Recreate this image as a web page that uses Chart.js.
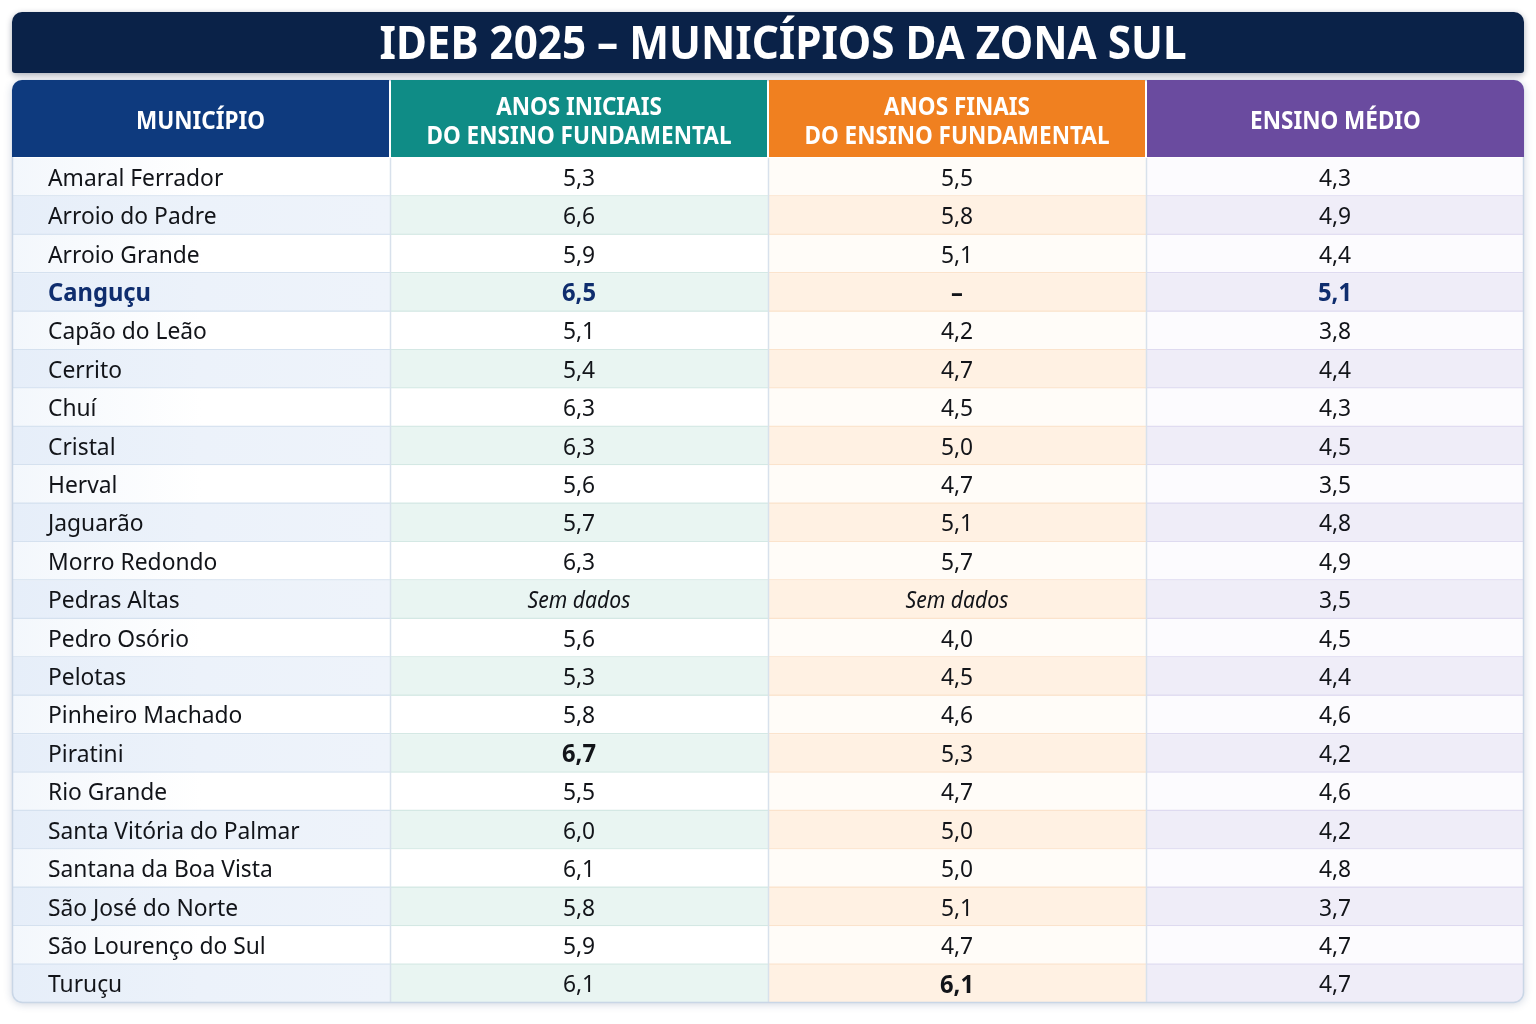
<!DOCTYPE html>
<html lang="pt-BR">
<head>
<meta charset="utf-8">
<title>IDEB 2025 – Municípios da Zona Sul</title>
<script src="https://cdn.jsdelivr.net/npm/chart.js@4.4.1/dist/chart.umd.min.js"></script>
<style>
  html, body { margin: 0; padding: 0; background: #ffffff; }
  canvas { display: block; }
</style>
</head>
<body>
<canvas id="idebTable" width="1536" height="1024"></canvas>
<script>
// --- 1. Data ---
const TITLE = 'IDEB 2025 – MUNICÍPIOS DA ZONA SUL';
const NO_DATA = 'Sem dados';
const DASH = '–';

const columnHeaders = [
    ['MUNICÍPIO'],
    ['ANOS INICIAIS', 'DO ENSINO FUNDAMENTAL'],
    ['ANOS FINAIS', 'DO ENSINO FUNDAMENTAL'],
    ['ENSINO MÉDIO']
];

const municipios = [
    'Amaral Ferrador', 'Arroio do Padre', 'Arroio Grande', 'Canguçu', 'Capão do Leão',
    'Cerrito', 'Chuí', 'Cristal', 'Herval', 'Jaguarão', 'Morro Redondo', 'Pedras Altas',
    'Pedro Osório', 'Pelotas', 'Pinheiro Machado', 'Piratini', 'Rio Grande',
    'Santa Vitória do Palmar', 'Santana da Boa Vista', 'São José do Norte',
    'São Lourenço do Sul', 'Turuçu'
];

const anosIniciais = [5.3, 6.6, 5.9, 6.5, 5.1, 5.4, 6.3, 6.3, 5.6, 5.7, 6.3, NO_DATA, 5.6, 5.3, 5.8, 6.7, 5.5, 6.0, 6.1, 5.8, 5.9, 6.1];
const anosFinais   = [5.5, 5.8, 5.1, DASH, 4.2, 4.7, 4.5, 5.0, 4.7, 5.1, 5.7, NO_DATA, 4.0, 4.5, 4.6, 5.3, 4.7, 5.0, 5.0, 5.1, 4.7, 6.1];
const ensinoMedio  = [4.3, 4.9, 4.4, 5.1, 3.8, 4.4, 4.3, 4.5, 3.5, 4.8, 4.9, 3.5, 4.5, 4.4, 4.6, 4.2, 4.6, 4.2, 4.8, 3.7, 4.7, 4.7];

const highlightMunicipio = 'Canguçu';

// --- 2. Styles ---
const FONT = '"Noto Sans", "Open Sans", sans-serif';
const TITLE_BG = '#0a2248';
const HEADER_COLORS = ['#0e3a7e', '#0f8c86', '#f08020', '#6a4b9f'];
const STRIPE_COLORS = ['#ecf2fa', '#e9f5f2', '#fff1e3', '#efedf8'];
const PLAIN_COLORS  = ['#ffffff', '#ffffff', '#fffcf8', '#fcfbfe'];
const ROW_LINE_COLORS = ['#d5e1ef', '#d4e8e4', '#fbe3cc', '#dedaf0'];
const COL_LINE_COLOR = '#d8e1ec';
const OUTER_LINE_COLOR = '#c9d6e6';
const TEXT_COLOR = '#121419';
const HIGHLIGHT_COLOR = '#0f2d6e';

const valueColumns = [anosIniciais, anosFinais, ensinoMedio];

// Best value of each column is printed in bold
const columnMax = valueColumns.map(col => Math.max(...col.filter(v => typeof v === 'number')));

function formatValue(v) {
    return typeof v === 'number' ? v.toFixed(1).replace('.', ',') : v;
}

function roundRect(ctx, x, y, w, h, r) {
    const [tl, tr, br, bl] = r;
    ctx.beginPath();
    ctx.moveTo(x + tl, y);
    ctx.lineTo(x + w - tr, y);
    ctx.arcTo(x + w, y, x + w, y + tr, tr);
    ctx.lineTo(x + w, y + h - br);
    ctx.arcTo(x + w, y + h, x + w - br, y + h, br);
    ctx.lineTo(x + bl, y + h);
    ctx.arcTo(x, y + h, x, y + h - bl, bl);
    ctx.lineTo(x, y + tl);
    ctx.arcTo(x, y, x + tl, y, tl);
    ctx.closePath();
}

// Text centred on its cap height; squeeze narrows the glyphs a little
function drawText(ctx, text, x, yMid, opts) {
    const { size, weight = 400, color = TEXT_COLOR, align = 'left', style = 'normal', squeeze = 1, maxWidth } = opts;
    ctx.save();
    ctx.font = `${style} ${weight} ${size}px ${FONT}`;
    ctx.fillStyle = color;
    ctx.textAlign = align;
    ctx.textBaseline = 'alphabetic';
    ctx.translate(x, yMid + size * 0.714 / 2);
    let sx = squeeze;
    if (maxWidth) sx = Math.min(sx, maxWidth / ctx.measureText(text).width);
    ctx.scale(sx, 1);
    ctx.fillText(text, 0, 0);
    ctx.restore();
}

// --- 3. Table plugin ---
const HEADER_HEIGHT = 78;

const tablePlugin = {
    id: 'tablePlugin',
    beforeDraw(chart) {
        const { ctx, chartArea } = chart;
        const xs = chart.scales.x;
        const left = xs.getPixelForValue(0);
        const right = xs.getPixelForValue(4);

        // Title bar
        ctx.save();
        ctx.shadowColor = 'rgba(0, 20, 50, 0.35)';
        ctx.shadowBlur = 6;
        ctx.shadowOffsetY = 2;
        roundRect(ctx, left, 12, right - left, 61, [10, 10, 3, 3]);
        ctx.fillStyle = TITLE_BG;
        ctx.fill();
        ctx.restore();
        drawText(ctx, TITLE, (left + right) / 2 + 15, 43,
            { size: 46, weight: 700, color: '#ffffff', align: 'center', maxWidth: 807 });

        // Table card with shadow
        const top = chartArea.top - HEADER_HEIGHT;
        ctx.save();
        ctx.shadowColor = 'rgba(30, 60, 110, 0.22)';
        ctx.shadowBlur = 8;
        ctx.shadowOffsetY = 1;
        roundRect(ctx, left, top, right - left, chartArea.bottom - top, [10, 10, 10, 10]);
        ctx.fillStyle = '#ffffff';
        ctx.fill();
        ctx.restore();
    },
    beforeDatasetsDraw(chart) {
        const { ctx, chartArea } = chart;
        ctx.save();
        roundRect(ctx, chartArea.left, chartArea.top, chartArea.width, chartArea.height, [0, 0, 10, 10]);
        ctx.clip();
    },
    afterDatasetsDraw(chart) {
        const { ctx, chartArea } = chart;
        ctx.restore();
        const xs = chart.scales.x;
        const ys = chart.scales.y;

        // Column separators
        ctx.save();
        ctx.strokeStyle = COL_LINE_COLOR;
        ctx.lineWidth = 1.5;
        for (let c = 1; c < 4; c++) {
            const x = Math.round(xs.getPixelForValue(c)) + 0.5;
            ctx.beginPath();
            ctx.moveTo(x, chartArea.top);
            ctx.lineTo(x, chartArea.bottom);
            ctx.stroke();
        }
        // Outer border
        ctx.strokeStyle = OUTER_LINE_COLOR;
        ctx.lineWidth = 1.5;
        roundRect(ctx, chartArea.left + 0.5, chartArea.top - HEADER_HEIGHT + 0.5,
            chartArea.width - 1, chartArea.bottom - chartArea.top + HEADER_HEIGHT - 1, [10, 10, 10, 10]);
        ctx.stroke();
        ctx.restore();

        // Header cells
        for (let c = 0; c < 4; c++) {
            const x0 = xs.getPixelForValue(c) + (c > 0 ? 1 : 0);
            const x1 = xs.getPixelForValue(c + 1) - (c < 3 ? 1 : 0);
            const y0 = chartArea.top - HEADER_HEIGHT;
            roundRect(ctx, x0, y0, x1 - x0, HEADER_HEIGHT - 1, [c === 0 ? 10 : 0, c === 3 ? 10 : 0, 0, 0]);
            ctx.fillStyle = HEADER_COLORS[c];
            ctx.fill();
            const cx = (x0 + x1) / 2;
            const cy = y0 + (HEADER_HEIGHT - 1) / 2 + 2;
            const lines = columnHeaders[c];
            lines.forEach((line, i) => {
                const dy = (i - (lines.length - 1) / 2) * 29;
                drawText(ctx, line, cx, cy + dy,
                    { size: 25, weight: 700, color: '#ffffff', align: 'center', squeeze: 0.9 });
            });
        }

        // Body text
        municipios.forEach((name, i) => {
            const y = ys.getPixelForValue(i);
            const isHighlight = name === highlightMunicipio;
            drawText(ctx, name, xs.getPixelForValue(0) + 36, y, {
                size: isHighlight ? 25 : 24,
                weight: isHighlight ? 700 : 400,
                color: isHighlight ? HIGHLIGHT_COLOR : TEXT_COLOR,
                squeeze: 0.95
            });

            valueColumns.forEach((col, c) => {
                const v = col[i];
                const cx = xs.getPixelForValue(c + 1.5);
                if (v === NO_DATA) {
                    drawText(ctx, v, cx, y, { size: 23, style: 'italic', align: 'center', squeeze: 0.92 });
                    return;
                }
                let color = TEXT_COLOR;
                let weight = 400;
                if (isHighlight) {
                    weight = 700;
                    color = typeof v === 'number' ? HIGHLIGHT_COLOR : TEXT_COLOR;
                } else if (v === columnMax[c]) {
                    weight = 700;
                }
                drawText(ctx, formatValue(v), cx, y,
                    { size: weight === 700 ? 25 : 24, weight, color, align: 'center', squeeze: 0.95 });
            });
        });
    }
};

// --- 4. Chart ---
function cellColor(colIndex) {
    return (context) => {
        const row = context.dataIndex;
        const striped = row % 2 === 1;
        const base = striped ? STRIPE_COLORS[colIndex] : PLAIN_COLORS[colIndex];
        const area = context.chart.chartArea;
        if (colIndex !== 0 || !area) return base;
        // municipality column fades from a soft blue on the left
        const xs = context.chart.scales.x;
        const g = context.chart.ctx.createLinearGradient(area.left, 0, xs.getPixelForValue(1), 0);
        g.addColorStop(0, striped ? '#e6eef9' : '#f3f7fc');
        g.addColorStop(0.5, base);
        g.addColorStop(1, striped ? '#eef3fa' : '#ffffff');
        return g;
    };
}

const datasets = [0, 1, 2, 3].map(c => ({
    label: columnHeaders[c].join(' '),
    data: municipios.map(() => [c, c + 1]),
    backgroundColor: cellColor(c),
    borderColor: ROW_LINE_COLORS[c],
    borderWidth: { top: 0, right: 0, bottom: 1.5, left: 0 },
    borderSkipped: false,
    grouped: false,
    barPercentage: 1,
    categoryPercentage: 1
}));

new Chart(document.getElementById('idebTable'), {
    type: 'bar',
    data: { labels: municipios, datasets: datasets },
    options: {
        indexAxis: 'y',
        responsive: false,
        animation: false,
        devicePixelRatio: 1,
        layout: { padding: { top: 158, bottom: 21, left: 12, right: 12 } },
        scales: {
            x: { type: 'linear', min: 0, max: 4, display: false },
            y: { type: 'category', display: false }
        },
        plugins: {
            legend: { display: false },
            tooltip: { enabled: false }
        }
    },
    plugins: [tablePlugin]
});
</script>
</body>
</html>
